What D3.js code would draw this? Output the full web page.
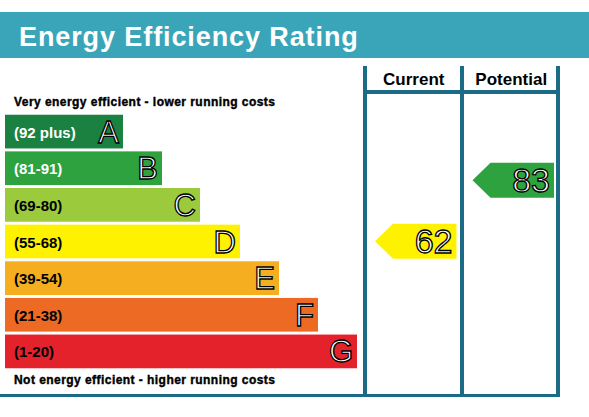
<!doctype html>
<html>
<head>
<meta charset="utf-8">
<script src="https://d3js.org/d3.v7.min.js"></script>
<style>
  body { margin: 0; background: #fff; }
  svg { font-family: Arial, "Liberation Sans", sans-serif; }
</style>
</head>
<body>
<svg id="c" width="589" height="417"></svg>
<script>
// rating bands
var bands   = ["A", "B", "C", "D", "E", "F", "G"];
var ranges  = ["(92 plus)", "(81-91)", "(69-80)", "(55-68)", "(39-54)", "(21-38)", "(1-20)"];
var colours = ["#1a8140", "#2ea23e", "#9bcb3c", "#fff200", "#f5ae1f", "#ed6a25", "#e3222b"];
var textCol = ["#fff", "#fff", "#000", "#000", "#000", "#000", "#000"];
var bandEnd = [123, 162, 200, 240, 279, 318, 357];

// ratings
var columns = ["Current", "Potential"];
var scores  = [62, 83];

var svg = d3.select("#c");
var teal = "#1b6b86";

function bandOf(s) {
  var lo = [92, 81, 69, 55, 39, 21, 1];
  for (var i = 0; i < lo.length; i++) if (s >= lo[i]) return i;
  return 6;
}

var y = d3.scaleBand().domain(bands).range([114, 369]).paddingInner(0.08).paddingOuter(0.02);
var colX = d3.scaleBand().domain(columns).range([365, 560]);
var scoreY = d3.scaleLinear().domain([100, 1]).range([131, 418]);

// title bar
svg.append("rect").attr("x", 0).attr("y", 12).attr("width", 589).attr("height", 46).attr("fill", "#3aa5b8");
svg.append("text").attr("x", 19).attr("y", 46).attr("fill", "#fff")
  .attr("font-size", 27).attr("font-weight", "bold").attr("letter-spacing", 0.9).text("Energy Efficiency Rating");

svg.append("text").attr("x", 14).attr("y", 106).attr("font-size", 12).attr("font-weight", "bold")
  .attr("letter-spacing", 0.45).attr("stroke", "#000").attr("stroke-width", 0.4)
  .text("Very energy efficient - lower running costs");
svg.append("text").attr("x", 14).attr("y", 384).attr("font-size", 12).attr("font-weight", "bold")
  .attr("letter-spacing", 0.45).attr("stroke", "#000").attr("stroke-width", 0.4)
  .text("Not energy efficient - higher running costs");

var g = svg.selectAll("g.band").data(bands).enter().append("g");
g.append("rect").attr("x", 5).attr("y", function(d) { return y(d); })
  .attr("width", function(d, i) { return bandEnd[i] - 5; })
  .attr("height", y.bandwidth())
  .attr("fill", function(d, i) { return colours[i]; });
g.append("text").attr("x", 14).attr("y", function(d) { return y(d) + y.bandwidth() / 2 + 6; })
  .attr("font-size", 15).attr("font-weight", "bold")
  .attr("fill", function(d, i) { return textCol[i]; })
  .text(function(d, i) { return ranges[i]; });
g.append("text").attr("x", function(d, i) { return bandEnd[i] - 4; })
  .attr("y", function(d) { return y(d) + y.bandwidth() / 2 + 11; })
  .attr("text-anchor", "end").attr("font-size", 31)
  .attr("fill", "#fff").attr("stroke", "#000").attr("stroke-width", 1.3)
  .text(function(d) { return d; });

// grid
[365, 462, 558].forEach(function(x) {
  svg.append("rect").attr("x", x - 2).attr("y", 66).attr("width", 4).attr("height", 331).attr("fill", teal);
});
svg.append("rect").attr("x", 363).attr("y", 90).attr("width", 197).attr("height", 4).attr("fill", teal);
svg.append("rect").attr("x", 0).attr("y", 394).attr("width", 560).attr("height", 3).attr("fill", teal);
svg.selectAll("text.col").data(columns).enter().append("text")
  .attr("x", function(d) { return colX(d) + colX.bandwidth() / 2; }).attr("y", 85)
  .attr("text-anchor", "middle").attr("font-size", 17).attr("font-weight", "bold").text(function(d) { return d; });

// arrows
scores.forEach(function(s, i) {
  var b = bandOf(s);
  var x0 = colX(columns[i]) + 10, x1 = colX(columns[i]) + colX.bandwidth() - 6;
  var h = 35, top = scoreY(s) - h / 2;
  svg.append("path")
    .attr("d", "M" + x0 + "," + (top + h / 2) + "L" + (x0 + 18) + "," + top + "H" + x1 + "V" + (top + h) + "H" + (x0 + 18) + "Z")
    .attr("fill", colours[b]);
  svg.append("text").attr("x", x1 - 4).attr("y", top + h / 2 + 12).attr("text-anchor", "end")
    .attr("font-size", 34).attr("fill", "#fff").attr("stroke", "#000").attr("stroke-width", 1.3).text(s);
});
</script>
</body>
</html>
